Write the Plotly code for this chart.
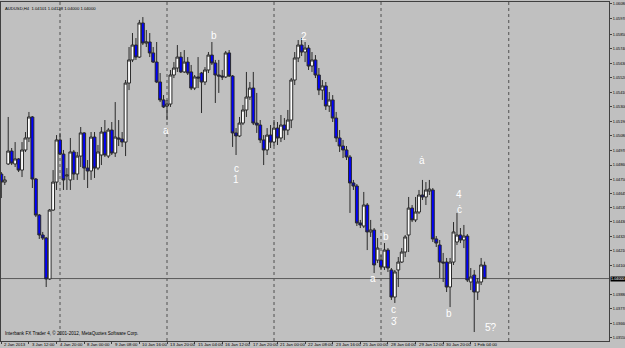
import plotly.graph_objects as go

# ---- data (AUDUSD H4, prices) ----
opens = [1.04837,1.04792,1.04731,1.04868,1.04966,1.04868,1.04906,1.04822,1.04974,1.05065,
 1.05224,1.04754,1.04481,1.04330,1.04307,1.03997,1.04519,1.04731,1.05050,1.04943,
 1.04777,1.04747,1.04959,1.04792,1.04928,1.05103,1.04837,1.04815,1.05072,1.04837,
 1.04936,1.05110,1.04928,1.05125,1.04951,1.05065,1.05057,1.05034,1.05481,1.05656,
 1.05769,1.05678,1.05936,1.05784,1.05792,1.05709,1.05640,1.05489,1.05353,1.05307,
 1.05322,1.05542,1.05595,1.05678,1.05565,1.05640,1.05565,1.05443,1.05527,1.05557,
 1.05489,1.05580,1.05693,1.05633,1.05542,1.05534,1.05527,1.05709,1.05534,1.05103,
 1.05080,1.05178,1.05277,1.05375,1.05443,1.05178,1.05163,1.05050,1.04974,1.05087,
 1.05034,1.05140,1.05065,1.05163,1.05125,1.05201,1.05504,1.05671,1.05769,1.05716,
 1.05746,1.05610,1.05656,1.05542,1.05428,1.05459,1.05307,1.05353,1.05216,1.05065,
 1.05004,1.04974,1.04921,1.04724,1.04701,1.04421,1.04398,1.04557,1.04353,1.04368,
 1.04140,1.04140,1.04087,1.04216,1.04065,1.03860,1.04065,1.04125,1.04201,1.04330,
 1.04534,1.04444,1.04504,1.04633,1.04618,1.04663,1.04671,1.04300,1.04254,1.04125,
 1.04125,1.03936,1.04125,1.04277,1.04330,1.04292,1.04322,1.03974,1.04027,1.03898,
 1.03974,1.04101]
highs = [1.04860,1.04807,1.04777,1.05224,1.04989,1.05034,1.04913,1.05034,1.05110,1.05262,
 1.05231,1.04762,1.04489,1.04353,1.04315,1.04527,1.04822,1.05087,1.05103,1.04974,
 1.04837,1.05065,1.04974,1.04959,1.05148,1.05110,1.04898,1.05110,1.05110,1.05012,
 1.05148,1.05201,1.05140,1.05186,1.05337,1.05201,1.05110,1.05504,1.05754,1.05860,
 1.05822,1.05959,1.05981,1.05883,1.05860,1.05754,1.05792,1.05557,1.05390,1.05353,
 1.05580,1.05640,1.05769,1.05716,1.05731,1.05678,1.05618,1.05542,1.05678,1.05565,
 1.05602,1.05716,1.05792,1.05656,1.05656,1.05580,1.05724,1.05731,1.05542,1.05140,
 1.05224,1.05315,1.05565,1.05489,1.05565,1.05406,1.05201,1.05087,1.05140,1.05163,
 1.05201,1.05186,1.05239,1.05216,1.05277,1.05519,1.05716,1.05807,1.05822,1.05792,
 1.05769,1.05716,1.05693,1.05595,1.05504,1.05489,1.05413,1.05390,1.05262,1.05125,
 1.05050,1.05004,1.04936,1.04747,1.04716,1.04444,1.04656,1.04572,1.04444,1.04383,
 1.04307,1.04178,1.04269,1.04231,1.04080,1.04065,1.04163,1.04231,1.04330,1.04618,
 1.04557,1.04618,1.04671,1.04747,1.04731,1.04747,1.04686,1.04322,1.04292,1.04194,
 1.04156,1.04156,1.04428,1.04497,1.04383,1.04406,1.04337,1.04080,1.04065,1.04004,
 1.04156,1.04128]
lows = [1.04595,1.04610,1.04709,1.04860,1.04860,1.04845,1.04807,1.04769,1.04959,1.05034,
 1.04686,1.04466,1.04300,1.04292,1.03936,1.03989,1.04512,1.04671,1.04936,1.04671,
 1.04671,1.04671,1.04747,1.04747,1.04845,1.04747,1.04686,1.04747,1.04762,1.04822,
 1.04860,1.04921,1.04913,1.04936,1.04921,1.05004,1.04997,1.04928,1.05428,1.05640,
 1.05656,1.05671,1.05769,1.05754,1.05678,1.05633,1.05481,1.05337,1.05292,1.05201,
 1.05300,1.05519,1.05565,1.05557,1.05557,1.05542,1.05428,1.05428,1.05443,1.05254,
 1.05466,1.05557,1.05618,1.05330,1.05406,1.05504,1.05519,1.05527,1.04997,1.04936,
 1.05072,1.05163,1.05224,1.05353,1.05163,1.05103,1.05027,1.04860,1.04936,1.04989,
 1.05004,1.05012,1.05034,1.05050,1.05087,1.05140,1.05466,1.05640,1.05686,1.05640,
 1.05580,1.05565,1.05519,1.05390,1.05353,1.05277,1.05262,1.05186,1.05034,1.04959,
 1.04913,1.04898,1.04497,1.04671,1.04398,1.04383,1.04383,1.04216,1.04315,1.04042,
 1.04118,1.04065,1.04065,1.04050,1.03838,1.03815,1.03936,1.04118,1.04163,1.04201,
 1.04428,1.04428,1.04489,1.04595,1.04557,1.04633,1.04277,1.04239,1.04004,1.03974,
 1.03898,1.03784,1.04103,1.04254,1.04269,1.04231,1.03974,1.03913,1.03595,1.03838,
 1.03951,1.04000]
closes = [1.04777,1.04731,1.04747,1.04966,1.04875,1.04906,1.04822,1.04974,1.05065,1.05224,
 1.04754,1.04481,1.04330,1.04307,1.03997,1.04519,1.04731,1.05050,1.04943,1.04747,
 1.04784,1.04959,1.04792,1.04928,1.05103,1.04837,1.04815,1.05072,1.04837,1.04959,
 1.05110,1.04936,1.05125,1.04951,1.05072,1.05057,1.05034,1.05481,1.05656,1.05769,
 1.05678,1.05936,1.05784,1.05792,1.05709,1.05640,1.05489,1.05353,1.05300,1.05322,
 1.05542,1.05595,1.05678,1.05565,1.05640,1.05557,1.05443,1.05527,1.05519,1.05489,
 1.05580,1.05693,1.05633,1.05542,1.05534,1.05527,1.05709,1.05534,1.05103,1.05080,
 1.05178,1.05277,1.05375,1.05443,1.05178,1.05163,1.05050,1.04974,1.05087,1.05034,
 1.05140,1.05065,1.05163,1.05125,1.05201,1.05504,1.05671,1.05769,1.05716,1.05746,
 1.05610,1.05656,1.05542,1.05428,1.05459,1.05307,1.05353,1.05216,1.05065,1.05004,
 1.04974,1.04921,1.04724,1.04701,1.04421,1.04406,1.04557,1.04353,1.04368,1.04103,
 1.04231,1.04087,1.04216,1.04080,1.03860,1.04050,1.04125,1.04201,1.04315,1.04534,
 1.04444,1.04504,1.04633,1.04618,1.04671,1.04678,1.04300,1.04269,1.04125,1.04118,
 1.03936,1.04125,1.04353,1.04330,1.04292,1.04322,1.03989,1.04012,1.03898,1.03974,
 1.04103,1.04000]
bars = list(range(len(closes)))   # H4 bar index, bar 0 = 2 Jan 2013 00:00

time_tick_bars = [1, 9, 17, 25, 33, 41, 49, 57, 65, 73, 81, 89, 97, 105, 113, 121, 129, 137]
time_tick_labels = ["2 Jan 2013", "3 Jan 12:00", "4 Jan 20:00", "8 Jan 00:00", "9 Jan 08:00",
                    "10 Jan 16:00", "13 Jan 20:00", "15 Jan 04:00", "16 Jan 12:00", "17 Jan 20:00",
                    "21 Jan 00:00", "22 Jan 08:00", "23 Jan 16:00", "25 Jan 00:00", "28 Jan 04:00",
                    "29 Jan 12:00", "30 Jan 20:00", "1 Feb 04:00"]
separator_bars = [18, 49, 80, 111, 148]

price_ticks = [1.03550, 1.03660, 1.03770, 1.03880, 1.04100, 1.04210, 1.04320, 1.04430, 1.04535,
               1.04645, 1.04750, 1.04860, 1.04970, 1.05080, 1.05190, 1.05300, 1.05410, 1.05520,
               1.05630, 1.05740, 1.05850, 1.05970, 1.06080]
price_tick_labels = ["%.5f" % v for v in price_ticks]
bid_price = 1.04000

wave_labels = [("a", 48.7, 1.05125), ("b", 62.6, 1.05845), ("c", 69.0, 1.04837), ("1", 69.0, 1.04747),
               ("2", 88.7, 1.05830), ("a", 108.7, 1.04004), ("b", 112.4, 1.04315),
               ("c", 114.5, 1.03769), ("3\u0307", 114.8, 1.03671), ("\u0227", 122.9, 1.04898),
               ("4", 133.6, 1.04640), ("\u010b", 133.6, 1.04520), ("b", 130.7, 1.03732),
               ("5\u0307?", 142.9, 1.03633)]

BG = "#C0C0C0"
FONT = "Liberation Sans, Arial, sans-serif"

fig = go.Figure()
fig.add_trace(go.Candlestick(
    x=bars, open=opens, high=highs, low=lows, close=closes,
    increasing=dict(fillcolor="#FFFFFF", line=dict(color="#2a2a2a", width=1)),
    decreasing=dict(fillcolor="#0000FF", line=dict(color="#2a2a2a", width=1)),
    whiskerwidth=0, showlegend=False, hoverinfo="skip"))

shapes = []
for s in separator_bars:
    shapes.append(dict(type="line", xref="x", yref="paper", x0=s, x1=s, y0=0, y1=1,
                       line=dict(color="#505050", width=1, dash="dot"), layer="below"))
shapes.append(dict(type="line", xref="paper", yref="y", x0=0, x1=1, y0=bid_price, y1=bid_price,
                   line=dict(color="#5a5a5a", width=1), layer="below"))

ann = []
for t, xb, yp in wave_labels:
    ann.append(dict(x=xb, y=yp, xref="x", yref="y", text=t, showarrow=False,
                    font=dict(family=FONT, size=10, color="#FFFFFF")))
for xb, lab in zip(time_tick_bars, time_tick_labels):
    ann.append(dict(x=xb, y=0, xref="x", yref="paper", text=lab, showarrow=False,
                    xanchor="left", yanchor="middle", xshift=1, yshift=-3.5,
                    font=dict(family=FONT, size=4.3, color="#000000")))
ann.append(dict(x=1, y=bid_price, xref="paper", yref="y", text="1.04000", showarrow=False,
                xanchor="left", yanchor="middle", xshift=1, bgcolor="#000000", borderpad=0,
                font=dict(family=FONT, size=3.8, color="#FFFFFF")))
ann.append(dict(x=0, y=1, xref="paper", yref="paper", xanchor="left", yanchor="top",
                xshift=2, yshift=-2, showarrow=False,
                text="AUDUSD,H4  1.04101 1.04128 1.04000 1.04000",
                font=dict(family=FONT, size=4.2, color="#000000")))
ann.append(dict(x=0, y=0, xref="paper", yref="paper", xanchor="left", yanchor="bottom",
                xshift=2, yshift=3, showarrow=False,
                text="Interbank FX Trader 4, \u00a9 2001-2012, MetaQuotes Software Corp.",
                font=dict(family=FONT, size=4.6, color="#000000")))

fig.update_layout(
    width=625, height=348, margin=dict(l=1, r=16, t=2, b=7, autoexpand=False),
    paper_bgcolor=BG, plot_bgcolor=BG, shapes=shapes, annotations=ann,
    boxgap=0.12, boxgroupgap=0.05,
    xaxis=dict(range=[0.908, 177.04], rangeslider=dict(visible=False), showgrid=False,
               zeroline=False, tickvals=time_tick_bars, showticklabels=False,
               ticks="outside", ticklen=2, tickcolor="#404040", automargin=False,
               showline=True, linecolor="#404040", mirror=True),
    yaxis=dict(range=[1.03527, 1.06095], side="right", showgrid=False, zeroline=False,
               tickvals=price_ticks, ticktext=price_tick_labels, ticks="outside", ticklen=2,
               ticklabelstandoff=0,
               tickcolor="#404040", tickfont=dict(family=FONT, size=3.8, color="#000000"),
               automargin=False, showline=True, linecolor="#404040", mirror=True),
)

fig.write_html("out.html", config={"displayModeBar": False})
